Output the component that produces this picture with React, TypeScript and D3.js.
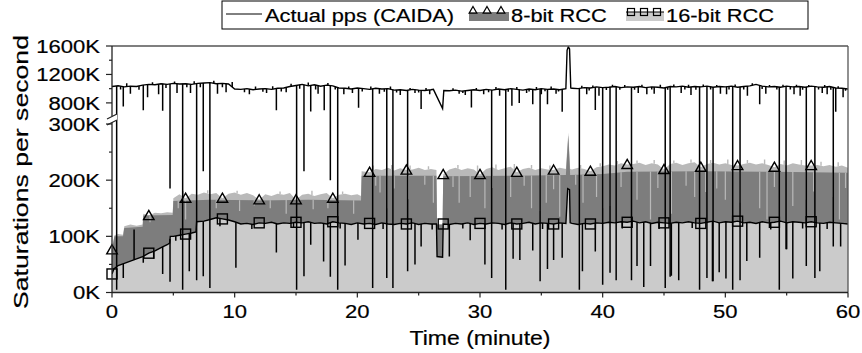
import React from "react";
import * as d3 from "d3";

// ---------- data (values in K packets/saturations per second, time in minutes) ----------
const xTicks = [0, 10, 20, 30, 40, 50, 60];
const xMinorTicks = [5, 15, 25, 35, 45, 55];
const yTicksLow = [0, 100, 200, 300];
const yMinorLow = [50, 150, 250];
const yTicksHigh = [800, 1200, 1600];
const yMinorHigh = [1000, 1400];
const legendLabels = ["Actual pps (CAIDA)", "8-bit RCC", "16-bit RCC"];

type P = [number, number];

const caidaPps: P[] = [
  [0, 1030], [0.5, 1040], [1, 1025], [1.5, 1035], [2, 1030], [2.5, 1050], [3, 1060], [3.5, 1055], [4, 1070], [4.5, 1060],
  [5, 1075], [5.5, 1065], [6, 1070], [6.5, 1060], [7, 1075], [7.5, 1080], [8, 1085], [8.5, 1070], [9, 1075], [9.5, 1065],
  [10, 995], [10.5, 990], [11, 1000], [11.5, 985], [12, 995], [12.5, 1000], [13, 990], [13.5, 1005], [14, 1010], [14.5, 1030],
  [15, 1045], [15.5, 1060], [16, 1040], [16.5, 1055], [17, 1035], [17.5, 1050], [18, 1040], [18.5, 1010], [19, 1005], [19.5, 995],
  [20, 1010], [20.5, 1000], [21, 990], [21.5, 1005], [22, 995], [22.5, 1000], [23, 980], [23.5, 985], [24, 975], [24.5, 990],
  [25, 980], [25.5, 975], [26, 985], [26.2, 990], [26.95, 720], [27.05, 975], [27.5, 970], [28, 980], [28.5, 965], [29, 975],
  [29.5, 985], [30, 975], [30.5, 990], [31, 980], [31.5, 995], [32, 985], [32.5, 1000], [33, 990], [33.5, 980], [34, 995],
  [34.5, 985], [35, 1000], [35.5, 990], [36, 995], [36.5, 985], [37, 1000], [37.1, 1540], [37.2, 1590], [37.3, 1560], [37.4, 1010],
  [37.5, 1005], [38, 1000], [38.5, 1015], [39, 1010], [39.5, 1025], [40, 1015], [40.5, 1020], [41, 1030], [41.5, 1015], [42, 1025],
  [42.5, 1020], [43, 1030], [43.5, 1015], [44, 1025], [44.5, 1020], [45, 1010], [45.5, 1030], [46, 1025], [46.5, 1035], [47, 1020],
  [47.5, 1030], [48, 1025], [48.5, 1035], [49, 1020], [49.5, 1030], [50, 1025], [50.5, 1035], [51, 1020], [51.5, 1030], [52, 1040],
  [52.5, 1060], [53, 1035], [53.5, 1025], [54, 1030], [54.5, 1020], [55, 1035], [55.5, 1025], [56, 1030], [56.5, 1020], [57, 1035],
  [57.5, 1025], [58, 1020], [58.5, 1030], [59, 1010], [59.5, 1005], [60, 995],
];

// sharp drops / blips of the actual packet rate: [minute, value]
const caidaDips: P[] = [
  [0.38, 5], [4.73, 185], [5.76, 5], [6.9, 22], [7.44, 216], [7.98, 8], [15.05, 5], [15.65, 216], [17.8, 200], [18.4, 5],
  [21.25, 8], [22.4, 26], [22.9, 8], [24.1, 38], [30.95, 26], [32.1, 5], [34.9, 20], [38.1, 5], [40.0, 14], [40.6, 35],
  [41.1, 22], [42.35, 22], [45.1, 8], [45.5, 28], [47.9, 5], [48.5, 26], [49.0, 20], [50.6, 5], [51.2, 22], [54.4, 5],
  [54.95, 77], [56.6, 47], [57.3, 26], [58.8, 82],
  [0.92, 750], [2.55, 690], [4.13, 680], [13.4, 690], [16.2, 660], [17.3, 690], [20.1, 730], [25.2, 715], [29.3, 735],
  [32.6, 760], [33.2, 800], [34.3, 780], [35.5, 780], [36.7, 650], [39.4, 700], [52.8, 780], [59.0, 650],
  [1.5, 930], [2.9, 880], [3.8, 920], [5.3, 940], [6.4, 940], [8.6, 930], [9.3, 950], [11.2, 920], [12.6, 940], [14.2, 950],
  [16.8, 930], [18.9, 920], [19.6, 940], [21.8, 930], [23.5, 910], [24.7, 940], [25.9, 920], [28.3, 930], [28.8, 910],
  [30.3, 920], [31.6, 900], [33.8, 940], [35.0, 920], [36.2, 930], [38.7, 920], [39.7, 900], [42.9, 940], [43.6, 920],
  [44.2, 930], [46.4, 940], [47.2, 910], [49.6, 930], [50.1, 920], [51.8, 900], [53.3, 930], [55.6, 920], [56.1, 900],
  [57.9, 940], [58.3, 920], [59.6, 880],
  [0.7, 990], [1.2, 1075], [2.2, 985], [3.3, 1090], [4.4, 1010], [5.1, 1100], [6.1, 1020], [6.7, 1105], [7.2, 1020],
  [8.3, 1110], [9.0, 1020], [9.8, 1095], [10.8, 950], [11.7, 1030], [12.3, 955], [13.1, 1035], [13.8, 960], [14.6, 1070],
  [15.3, 1000], [16.0, 1085], [16.6, 990], [17.6, 1080], [18.2, 990], [19.3, 1030], [20.4, 960], [21.1, 1030], [22.2, 955],
  [22.7, 1030], [23.2, 945], [24.3, 1010], [25.0, 945], [25.6, 1010], [27.8, 1005], [28.6, 940], [29.7, 1010], [30.7, 950],
  [31.3, 1025], [32.3, 955], [33.0, 1025], [34.0, 960], [34.6, 1025], [35.3, 965], [35.8, 1030], [36.4, 960], [38.3, 1040],
  [38.9, 975], [39.2, 1045], [40.3, 980], [40.8, 1055], [41.4, 985], [41.8, 1050], [42.6, 985], [43.2, 1055], [44.0, 990],
  [44.7, 1055], [45.3, 985], [45.8, 1060], [46.7, 990], [47.0, 1055], [47.6, 985], [48.2, 1060], [48.8, 990], [49.3, 1050],
  [50.3, 990], [50.8, 1060], [51.5, 990], [52.2, 1075], [53.0, 995], [53.6, 1050], [54.2, 990], [54.7, 1055], [55.3, 990],
  [55.8, 1055], [56.3, 985], [56.8, 1050], [57.6, 990], [58.1, 1050], [58.6, 985], [59.2, 1035], [59.8, 970],
];

const rcc16: P[] = [
  [0, 33], [0.15, 42], [0.5, 48], [1, 52], [1.5, 56], [2, 60], [2.5, 64], [3, 70], [3.5, 74], [4, 80], [4.5, 85], [4.7, 88],
  [4.75, 100], [5, 100], [5.5, 102], [6, 104], [6.5, 106], [6.85, 108], [6.9, 126], [7.5, 127], [8, 130], [8.5, 133], [9, 131],
  [9.5, 129], [10, 126], [10.5, 122], [11, 123], [11.5, 121], [12, 124], [12.5, 123], [13, 125], [13.5, 122], [14, 124],
  [14.5, 123], [15, 125], [15.5, 124], [16, 126], [16.5, 123], [17, 124], [17.5, 122], [18, 126], [18.5, 124], [19, 123],
  [19.5, 121], [20, 124], [20.5, 122], [21, 123], [21.5, 121], [22, 124], [22.5, 122], [23, 121], [23.5, 123], [24, 122],
  [24.5, 124], [25, 121], [25.5, 123], [26, 122], [26.45, 122], [26.5, 64], [26.95, 63], [27, 122], [27.5, 121], [28, 123],
  [28.5, 122], [29, 124], [29.5, 121], [30, 123], [30.5, 122], [31, 124], [31.5, 123], [32, 121], [32.5, 124], [33, 122],
  [33.5, 123], [34, 125], [34.5, 122], [35, 124], [35.5, 123], [36, 122], [36.5, 124], [37, 123], [37.15, 185], [37.3, 183],
  [37.35, 124], [37.5, 123], [38, 121], [38.5, 123], [39, 122], [39.5, 124], [40, 123], [40.5, 125], [41, 124], [41.5, 126],
  [42, 125], [42.5, 127], [43, 124], [43.5, 126], [44, 123], [44.5, 125], [45, 124], [45.5, 123], [46, 125], [46.5, 124],
  [47, 126], [47.5, 124], [48, 123], [48.5, 125], [49, 127], [49.5, 124], [50, 126], [50.5, 125], [51, 127], [51.5, 124],
  [52, 125], [52.5, 123], [53, 126], [53.5, 124], [54, 125], [54.5, 127], [55, 124], [55.5, 126], [56, 125], [56.5, 124],
  [57, 126], [57.5, 124], [58, 123], [58.5, 125], [59, 124], [59.5, 123], [60, 122],
];

const rcc16Dips: P[] = [
  [0.92, 26], [2.55, 53], [4.13, 33], [4.73, 19], [6.3, 38], [7.44, 29], [10.1, 44], [13.4, 71], [15.65, 29], [16.2, 85],
  [17.25, 55], [17.8, 28], [19.0, 48], [20.05, 94], [24.7, 50], [25.2, 82], [27.5, 64], [29.2, 93], [30.4, 50], [32.7, 60],
  [33.25, 58], [34.3, 75], [35.5, 42], [36.0, 58], [36.7, 62], [38.35, 38], [39.4, 73], [42.8, 47], [43.35, 10], [43.9, 47],
  [45.6, 30], [46.2, 22], [48.95, 20], [49.5, 36], [50.05, 25], [51.75, 56], [52.8, 62], [55.0, 77], [55.5, 25], [57.7, 38],
  [59.4, 82],
  [1.8, 112], [3.4, 60], [5.2, 92], [8.8, 118], [11.4, 113], [14.8, 115], [18.6, 114], [22.1, 113], [26.1, 112], [28.6, 114],
  [31.8, 112], [35.1, 113], [41.6, 114], [44.6, 113], [47.3, 115], [53.7, 112], [56.3, 114], [58.3, 113],
];

// 8-bit RCC: noisy upper edge and the lower edge of its noise band
const rcc8: P[] = [
  [0, 76], [0.2, 102], [0.5, 104], [0.9, 103], [1, 118], [1.5, 121], [2, 119], [2.5, 121], [2.55, 140], [3, 137], [3.5, 142],
  [4, 141], [4.5, 143], [4.95, 142], [5, 168], [5.5, 175], [6, 168], [6.5, 176], [7, 174], [7.5, 178], [8, 175], [8.5, 177],
  [9, 168], [9.5, 176], [10, 178], [10.5, 174], [11, 177], [11.5, 173], [12, 165], [12.5, 175], [13, 172], [13.5, 176],
  [14, 174], [14.5, 177], [15, 165], [15.5, 174], [16, 176], [16.5, 172], [17, 175], [17.5, 177], [18, 168], [18.5, 174],
  [19, 176], [19.5, 173], [20, 175], [20.3, 172], [20.35, 216], [21, 214], [21.5, 220], [22, 218], [22.5, 222], [23, 217],
  [23.5, 221], [24, 218], [24.5, 219], [25, 222], [25.5, 218], [26, 220], [26.45, 218], [26.5, 121], [26.95, 121], [27, 210],
  [27.5, 219], [28, 222], [28.5, 218], [29, 221], [29.5, 219], [30, 210], [30.5, 220], [31, 223], [31.5, 218], [32, 221],
  [32.5, 224], [33, 214], [33.5, 220], [34, 222], [34.5, 218], [35, 221], [35.5, 219], [36, 218], [36.5, 222], [37, 220],
  [37.2, 285], [37.35, 220], [37.5, 219], [38, 222], [38.5, 220], [39, 216], [39.5, 223], [40, 225], [40.5, 228], [41, 226],
  [41.5, 230], [42, 228], [42.5, 229], [43, 231], [43.5, 227], [44, 230], [44.5, 228], [45, 219], [45.5, 229], [46, 231],
  [46.5, 227], [47, 230], [47.5, 232], [48, 223], [48.5, 229], [49, 231], [49.5, 228], [50, 230], [50.5, 227], [51, 226],
  [51.5, 229], [52, 231], [52.5, 228], [53, 230], [53.5, 227], [54, 223], [54.5, 229], [55, 226], [55.5, 230], [56, 228],
  [56.5, 226], [57, 226], [57.5, 227], [58, 225], [58.5, 227], [59, 224], [59.5, 226], [60, 222],
];

const rcc8Floor: P[] = [
  [0, 76], [0.2, 100], [0.9, 100], [1, 115], [2.5, 117], [2.55, 137], [4.95, 138], [5, 163], [8, 165], [12, 164], [16, 165],
  [20.3, 164], [20.35, 208], [26.45, 208], [26.5, 121], [26.95, 121], [27, 207], [33, 208], [37, 209], [37.2, 280],
  [37.35, 209], [40, 211], [42, 215], [48, 216], [54, 215], [60, 213],
];

// short upward flickers of the 8-bit band's top edge
const rcc8Blips: P[] = [
  [5.8, 181], [7.8, 182], [10.2, 181], [13.7, 180], [16.3, 181], [18.8, 180], [21.3, 226], [22.8, 227], [24.3, 226],
  [25.8, 225], [28.2, 227], [29.8, 226], [31.3, 228], [32.8, 229], [34.2, 227], [35.7, 226], [38.2, 227], [39.8, 230],
  [41.2, 234], [42.8, 235], [44.2, 236], [45.8, 235], [47.2, 237], [48.8, 236], [50.2, 237], [51.8, 236], [53.2, 237],
  [54.8, 235], [56.2, 236], [57.8, 233], [59.2, 232],
];

const rcc8Dips: P[] = [
  [3.1, 125], [5.4, 150], [6.0, 130], [10.4, 145], [12.9, 150], [14.2, 140], [16.4, 148], [19.7, 140], [21.85, 178],
  [22.4, 150], [24.15, 166], [26.2, 160], [28.3, 160], [29.2, 170], [30.4, 150], [32.5, 170], [34.2, 150], [34.9, 145],
  [35.4, 160], [36.5, 135], [38.4, 160], [39.5, 170], [40.0, 150], [40.6, 154], [42.8, 165], [43.9, 130], [45.6, 140],
  [48.4, 179], [50.0, 165], [51.2, 160], [52.8, 150], [53.4, 130], [55.5, 154], [56.6, 165], [58.8, 170], [59.3, 130],
  [21.5, 190], [23.0, 185], [25.5, 192], [27.8, 188], [31.0, 186], [33.6, 190], [36.0, 184], [37.8, 192], [41.5, 188],
  [44.5, 186], [46.8, 190], [47.5, 170], [49.3, 185], [54.0, 188], [57.2, 180], [59.8, 186], [8.5, 150], [11.6, 155],
  [17.6, 150],
];

// ---------- layout ----------
const W = 862;
const H = 353;
const X0 = 112;
const X1 = 848;
const YB = 292.5;
const YT = 46;
const SX = 1.18; // horizontal stretch of the lettering
const FONT = "'Liberation Sans', Arial, Helvetica, sans-serif";
const C_DARK = "#7d7d7d";
const C_FRINGE = "#b9b9b9";
const C_LIGHT = "#cbcbcb";

const bis = d3.bisector((d: P) => d[0]).left;
function valueAt(s: P[], t: number): number {
  const i = bis(s, t);
  if (i <= 0) return s[0][1];
  if (i >= s.length) return s[s.length - 1][1];
  const a = s[i - 1];
  const b = s[i];
  if (b[0] === t) return b[1];
  return a[1] + ((b[1] - a[1]) * (t - a[0])) / (b[0] - a[0]);
}

function Txt(props: {
  x: number; y: number; anchor?: string; size?: number; rotate?: number; sx?: number; along?: number;
  children: React.ReactNode;
}) {
  const { x, y, anchor = "start", size = 18.7, rotate = 0, sx = SX, along = 1, children } = props;
  return (
    <text
      transform={`translate(${x},${y}) scale(${sx},1) rotate(${rotate}) scale(${along},1)`}
      textAnchor={anchor}
      fontSize={size}
      fontFamily={FONT}
      fill="#000"
      stroke="#000"
      strokeWidth={0.2}
    >
      {children}
    </text>
  );
}

export default function App() {
  const x = d3.scaleLinear().domain([0, 60]).range([X0, X1]);
  const y = d3.scaleLinear().domain([0, 300, 700, 1600]).range([YB, 124, 110, YT]);

  const lineGen = d3.line<P>().x((d) => x(d[0])).y((d) => y(d[1]));
  const areaGen = d3.area<P>().x((d) => x(d[0])).y0(YB).y1((d) => y(d[1]));

  const markerTimes = d3.range(0, 60, 3);
  const tri = d3.symbol().type(d3.symbolTriangle).size(48)() as string;
  const triL = d3.symbol().type(d3.symbolTriangle).size(26)() as string;

  const dipLines = (dips: P[], base: P[], color: string, w: number) =>
    dips.map((d, i) => (
      <line
        key={i}
        x1={x(d[0])}
        x2={x(d[0])}
        y1={y(valueAt(base, d[0]))}
        y2={y(d[1])}
        stroke={color}
        strokeWidth={w}
      />
    ));

  const axisColor = "#222";
  const breakY1 = 116;
  const breakY2 = 122;

  return (
    <svg width={W} height={H} style={{ position: "absolute", left: 0, top: 0, background: "#fff" }}>
      <defs>
        <clipPath id="plot">
          <rect x={X0} y={YT} width={X1 - X0} height={YB - YT} />
        </clipPath>
      </defs>

      <g clipPath="url(#plot)">
        {/* 8-bit RCC band */}
        <path d={areaGen(rcc8) as string} fill={C_FRINGE} />
        {dipLines(rcc8Blips, rcc8, C_FRINGE, 1.4)}
        <path d={areaGen(rcc8Floor) as string} fill={C_DARK} />
        {dipLines(rcc8Dips, rcc8Floor, C_FRINGE, 1.2)}
        {/* 16-bit RCC */}
        <path d={areaGen(rcc16) as string} fill={C_LIGHT} />
        <path d={lineGen(rcc16) as string} fill="none" stroke="#000" strokeWidth={1.4} />
        {dipLines(rcc16Dips, rcc16, "#000", 1.5)}
        {/* actual pps */}
        <path d={lineGen(caidaPps) as string} fill="none" stroke="#000" strokeWidth={1.4} />
        {dipLines(caidaDips, caidaPps, "#000", 1.5)}
      </g>

      {/* markers */}
      {markerTimes.map((t) => (
        <path
          key={"t" + t}
          d={tri}
          transform={`translate(${x(t)},${y(valueAt(rcc8, t)) + 1})`}
          fill="none"
          stroke="#000"
          strokeWidth={1.4}
        />
      ))}
      {markerTimes.map((t) => (
        <rect
          key={"s" + t}
          x={x(t) - 5}
          y={y(valueAt(rcc16, t)) - 5}
          width={10}
          height={10}
          fill="none"
          stroke="#000"
          strokeWidth={1.4}
        />
      ))}

      {/* frame */}
      <line x1={X0} x2={X1} y1={YT} y2={YT} stroke="#555" strokeWidth={1.3} />
      <line x1={X1} x2={X1} y1={YT} y2={YB} stroke="#555" strokeWidth={1.3} />
      <line x1={X0} x2={X1} y1={YB} y2={YB} stroke={axisColor} strokeWidth={1.3} />
      <line x1={X0} x2={X0} y1={YT} y2={breakY1} stroke={axisColor} strokeWidth={1.3} />
      <line x1={X0} x2={X0} y1={breakY2} y2={YB} stroke={axisColor} strokeWidth={1.3} />
      <polygon
        points={`${X0 - 5},${breakY1 + 3} ${X0 + 5},${breakY1 - 2} ${X0 + 5},${breakY2 - 2} ${X0 - 5},${breakY2 + 3}`}
        fill="#fff"
      />
      <line x1={X0 - 5} x2={X0 + 5} y1={breakY1 + 3} y2={breakY1 - 2} stroke={axisColor} strokeWidth={1.1} />
      <line x1={X0 - 5} x2={X0 + 5} y1={breakY2 + 3} y2={breakY2 - 2} stroke={axisColor} strokeWidth={1.1} />

      {/* x axis */}
      {xTicks.map((t) => (
        <g key={"xt" + t}>
          <line x1={x(t)} x2={x(t)} y1={YB} y2={YB + 5} stroke={axisColor} strokeWidth={1.2} />
          <Txt x={x(t)} y={318} anchor="middle">{String(t)}</Txt>
        </g>
      ))}
      {xMinorTicks.map((t) => (
        <line key={"xm" + t} x1={x(t)} x2={x(t)} y1={YB} y2={YB + 3} stroke={axisColor} strokeWidth={1.2} />
      ))}
      <Txt x={(X0 + X1) / 2} y={345} anchor="middle" size={19.5}>Time (minute)</Txt>

      {/* y axis */}
      {[...yTicksLow, ...yTicksHigh].map((v) => (
        <g key={"yt" + v}>
          <line x1={X0 - 6} x2={X0} y1={y(v)} y2={y(v)} stroke={axisColor} strokeWidth={1.2} />
          <Txt x={100} y={y(v) + 6.7} anchor="end">{`${v}K`}</Txt>
        </g>
      ))}
      {[...yMinorLow, ...yMinorHigh].map((v) => (
        <line key={"ym" + v} x1={X0 - 3} x2={X0} y1={y(v)} y2={y(v)} stroke={axisColor} strokeWidth={1.2} />
      ))}
      <Txt x={28} y={172} anchor="middle" size={20.5} rotate={-90} sx={1} along={1.3}>
        Saturations per second
      </Txt>

      {/* legend */}
      <rect x={222} y={1} width={586} height={28} fill="#fff" stroke="#000" strokeWidth={1} />
      <line x1={226} x2={262} y1={14} y2={14} stroke="#000" strokeWidth={1} />
      <Txt x={265} y={21.5} size={18.5}>{legendLabels[0]}</Txt>
      <rect x={469} y={12} width={40} height={9} fill={C_DARK} />
      {[473, 487, 501].map((cx) => (
        <path key={"lt" + cx} d={triL} transform={`translate(${cx},${11})`} fill="none" stroke="#000" strokeWidth={1.2} />
      ))}
      <Txt x={511} y={21.5} size={18.5}>{legendLabels[1]}</Txt>
      <rect x={626} y={12} width={38} height={9} fill={C_LIGHT} />
      <line x1={626} x2={664} y1={12} y2={12} stroke="#000" strokeWidth={1} />
      {[631, 644, 657].map((cx) => (
        <rect key={"ls" + cx} x={cx - 3.5} y={8.5} width={7} height={7} fill="none" stroke="#000" strokeWidth={1.2} />
      ))}
      <Txt x={666} y={21.5} size={18.5}>{legendLabels[2]}</Txt>
    </svg>
  );
}
